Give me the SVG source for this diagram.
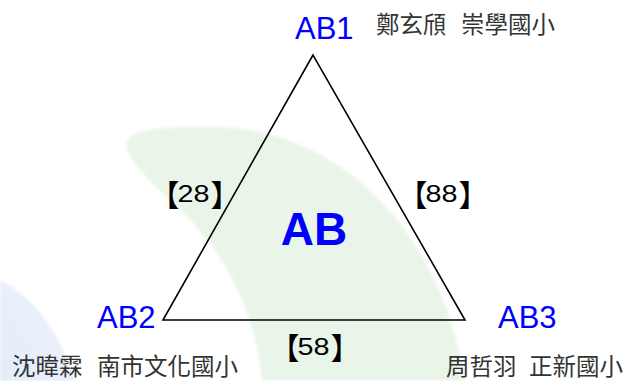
<svg xmlns="http://www.w3.org/2000/svg" width="629" height="381" viewBox="0 0 629 381">
  <defs>
    <filter id="soft" x="-10%" y="-10%" width="120%" height="120%">
      <feGaussianBlur stdDeviation="1.5"/>
    </filter>
    <linearGradient id="blueFade" x1="0" y1="1" x2="1" y2="0">
      <stop offset="0" stop-color="#e3ecfa"/>
      <stop offset="1" stop-color="#eef3fc"/>
    </linearGradient>
  </defs>
  <style>
    .node { font-family: "Liberation Sans", Arial, sans-serif; font-size: 31px; fill: #0000ff; }
    .center { font-family: "Liberation Sans", Arial, sans-serif; font-size: 46px; font-weight: bold; fill: #0000ff; }
    .name { font-family: "Noto Sans CJK TC", "Noto Sans CJK SC", sans-serif; font-size: 23.5px; fill: #333333; }
    .num { font-family: "Liberation Sans", Arial, sans-serif; font-size: 24px; fill: #000000; }
    .br { font-family: "Noto Sans CJK TC", "Noto Sans CJK SC", sans-serif; font-size: 30px; fill: #000000; }
    .edge { fill: none; stroke: #000000; stroke-width: 1.6; stroke-linejoin: miter; }
  </style>

  <rect width="629" height="381" fill="#ffffff"/>

  <g id="background">
    <path d="M0,280 C30,295 60,330 75,381 L0,381 Z" fill="url(#blueFade)" filter="url(#soft)"/>
    <path d="M127,150 C120,128 160,126 220,127 C330,130 440,220 465,381 L262,381 C255,310 225,255 185,215 C160,190 135,170 127,150 Z" fill="#eaf5ea" filter="url(#soft)"/>
  </g>

  <g id="connectors">
    <polygon class="edge" points="313,55 163,320 465,320"/>
    <g id="label-AB1-AB2">
      <text><tspan class="br" x="149.5" y="205.5">【</tspan><tspan class="num" x="193.5" y="202" text-anchor="middle" textLength="32" lengthAdjust="spacingAndGlyphs">28</tspan><tspan class="br" x="210.5" y="205.5">】</tspan></text>
    </g>
    <g id="label-AB1-AB3">
      <text><tspan class="br" x="397.5" y="205.5">【</tspan><tspan class="num" x="441.5" y="202" text-anchor="middle" textLength="32" lengthAdjust="spacingAndGlyphs">88</tspan><tspan class="br" x="458.5" y="205.5">】</tspan></text>
    </g>
    <g id="label-AB2-AB3">
      <text><tspan class="br" x="269.5" y="358.5">【</tspan><tspan class="num" x="313.5" y="355" text-anchor="middle" textLength="32" lengthAdjust="spacingAndGlyphs">58</tspan><tspan class="br" x="330.5" y="358.5">】</tspan></text>
    </g>
  </g>

  <g id="AB">
    <text class="center" x="314" y="245" text-anchor="middle">AB</text>
  </g>

  <g id="AB1">
    <text class="node" x="295" y="39">AB1</text>
    <text class="name"><tspan x="376" y="33">鄭玄頎</tspan><tspan x="461" y="33">崇學國小</tspan></text>
  </g>

  <g id="AB2">
    <text class="node" x="97" y="328">AB2</text>
    <text class="name"><tspan x="12" y="375">沈暐霖</tspan><tspan x="97" y="375">南市文化國小</tspan></text>
  </g>

  <g id="AB3">
    <text class="node" x="498" y="328">AB3</text>
    <text class="name"><tspan x="446" y="375">周哲羽</tspan><tspan x="529" y="375">正新國小</tspan></text>
  </g>
</svg>
